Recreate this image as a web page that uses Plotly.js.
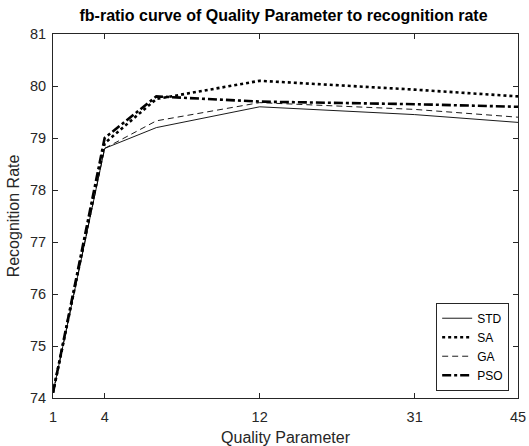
<!DOCTYPE html>
<html>
<head>
<meta charset="utf-8">
<script src="https://cdn.plot.ly/plotly-3.0.1.min.js"></script>
<style>html,body{margin:0;padding:0;background:#fff;}#chart{width:529px;height:446px;}</style>
</head>
<body>
<div id="chart"></div>
<script>
// x positions of the measured points (index along the axis)
const xIndex = [0, 1, 2, 4, 7, 9];
// x tick positions and labels (Quality Parameter)
const tickIndex = [0, 1, 4, 7, 9];
const tickLabels = ['1', '4', '12', '31', '45'];
// recognition rates
const stdVals = [74.1, 78.8, 79.2, 79.6, 79.45, 79.3];
const saVals  = [74.1, 78.9, 79.75, 80.1, 79.93, 79.8];
const gaVals  = [74.1, 78.8, 79.33, 79.68, 79.55, 79.4];
const psoVals = [74.1, 79.0, 79.8, 79.7, 79.65, 79.6];
const seriesNames = ['STD', 'SA', 'GA', 'PSO'];

const FONT = 'Liberation Sans, Arial, sans-serif';
const styles = [
  {width: 0.9, dash: 'solid'},
  {width: 2.6, dash: 'dot'},
  {width: 0.9, dash: '6px,4px'},
  {width: 2.6, dash: 'dashdot'}
];
const vals = [stdVals, saVals, gaVals, psoVals];
const traces = vals.map((v, i) => ({
  x: xIndex, y: v, name: seriesNames[i], type: 'scatter', mode: 'lines',
  line: {color: '#000', width: styles[i].width, dash: styles[i].dash}
}));

const axisCommon = {
  showgrid: false, zeroline: false, showline: true, linecolor: '#262626', linewidth: 1,
  mirror: 'ticks', ticks: 'inside', ticklen: 5, tickcolor: '#262626',
  tickfont: {family: FONT, size: 14.5, color: '#262626'}
};

const layout = {
  width: 529, height: 446,
  margin: {l: 53, r: 11, t: 34, b: 48},
  paper_bgcolor: '#fff', plot_bgcolor: '#fff',
  title: {text: '<b>fb-ratio curve of Quality Parameter to recognition rate</b>',
    font: {family: FONT, size: 16, color: '#000'},
    x: 0.536, xanchor: 'center', y: 0.966, yanchor: 'middle', yref: 'container'},
  xaxis: Object.assign({}, axisCommon, {
    range: [0, 9], tickmode: 'array', tickvals: tickIndex, ticktext: tickLabels,
    ticklabelstandoff: 6,
    title: {text: 'Quality Parameter', standoff: 8,
      font: {family: FONT, size: 16, color: '#262626'}}
  }),
  yaxis: Object.assign({}, axisCommon, {
    range: [74, 81], dtick: 1, tick0: 74, ticklabelstandoff: 3,
    title: {text: 'Recognition Rate', standoff: 6,
      font: {family: FONT, size: 16, color: '#262626'}}
  }),
  showlegend: true,
  legend: {x: 0.981, y: 0.02, xanchor: 'right', yanchor: 'bottom',
    bgcolor: '#fff', bordercolor: '#262626', borderwidth: 1,
    font: {family: FONT, size: 12, color: '#000'},
    tracegroupgap: 0, itemwidth: 30}
};

Plotly.newPlot('chart', traces, layout, {displayModeBar: false, staticPlot: true});
</script>
</body>
</html>
